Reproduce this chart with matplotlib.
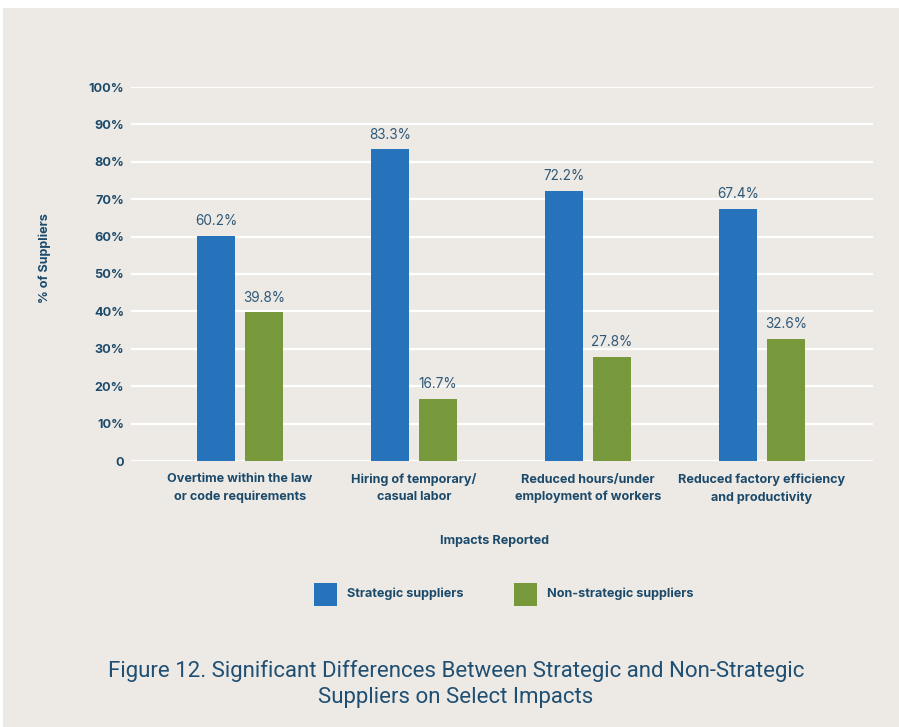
import matplotlib
matplotlib.use("Agg")
import matplotlib.pyplot as plt
import numpy as np
from matplotlib.patches import Rectangle

categories = [
    "Overtime within the law\nor code requirements",
    "Hiring of temporary/\ncasual labor",
    "Reduced hours/under\nemployment of workers",
    "Reduced factory efficiency\nand productivity",
]
strategic = [60.2, 83.3, 72.2, 67.4]
non_strategic = [39.8, 16.7, 27.8, 32.6]
series_names = ["Strategic suppliers", "Non-strategic suppliers"]
y_ticks = [0, 10, 20, 30, 40, 50, 60, 70, 80, 90, 100]
y_tick_labels = ["0"] + [f"{v}%" for v in y_ticks[1:]]

BG = "#EDEAE5"
BLUE = "#2673BB"
GREEN = "#77993C"
NAVY = "#1C4A6B"
LABEL = "#2F5877"
BOLD_SIZE = 9.1

W, H = 899, 727
fig = plt.figure(figsize=(W / 100, H / 100), dpi=100, facecolor="white")
# beige panel behind everything, leaving a thin white margin at top/left
fig.patches.append(Rectangle((3 / W, 0), 1 - 3 / W, 1 - 8 / H,
                             transform=fig.transFigure, facecolor=BG,
                             edgecolor="none", zorder=-10))

ax = fig.add_axes([131 / W, (H - 461) / H, 742 / W, (461 - 87) / H])
ax.set_facecolor(BG)
ax.patch.set_alpha(0)

x = np.arange(len(categories))
bw = 0.218
off = 0.138
b1 = ax.bar(x - off, strategic, width=bw, color=BLUE, zorder=3)
b2 = ax.bar(x + off, non_strategic, width=bw, color=GREEN, zorder=3)

for bars, vals in ((b1, strategic), (b2, non_strategic)):
    for rect, v in zip(bars, vals):
        ax.annotate(f"{v}%", (rect.get_x() + rect.get_width() / 2, v),
                    xytext=(0, 5.5), textcoords="offset points",
                    ha="center", va="bottom", fontsize=9.8,
                    family="Inter", color=LABEL)

ax.set_ylim(0, 100)
ax.set_xlim(-0.626, 3.638)
ax.set_yticks(y_ticks)
ax.set_yticklabels(y_tick_labels)
ax.yaxis.grid(True, color="white", linewidth=1.6, zorder=0)
ax.set_axisbelow(True)
for s in ax.spines.values():
    s.set_visible(False)
ax.tick_params(axis="y", length=0, pad=5)
ax.tick_params(axis="x", length=0, pad=9)
for t in ax.get_yticklabels():
    t.set_fontfamily("Inter")
    t.set_fontweight("bold")
    t.set_fontsize(BOLD_SIZE)
    t.set_color(NAVY)
ax.set_xticks(x)
ax.set_xticklabels(categories, fontsize=BOLD_SIZE, fontweight="bold",
                   family="Inter", color=NAVY, linespacing=1.55)

fig.text(494 / W, 1 - 541 / H, "Impacts Reported", ha="center", va="center",
         fontsize=BOLD_SIZE, fontweight="bold", family="Inter", color=NAVY)
fig.text(45 / W, 1 - 258 / H, "% of Suppliers", ha="center", va="center",
         rotation=90, fontsize=BOLD_SIZE, fontweight="bold", family="Inter",
         color=NAVY)

# legend built from figure patches
leg_x = [314, 514]
for xs, name, col in zip(leg_x, series_names, [BLUE, GREEN]):
    fig.patches.append(Rectangle((xs / W, 1 - 606 / H), 23 / W, 23 / H,
                                 transform=fig.transFigure, facecolor=col,
                                 edgecolor="none"))
    fig.text((xs + 33) / W, 1 - 594 / H, name, ha="left", va="center",
             fontsize=BOLD_SIZE, fontweight="bold", family="Inter", color=NAVY)

fig.text(456 / W, 1 - 684 / H,
         "Figure 12. Significant Differences Between Strategic and Non-Strategic\n"
         "Suppliers on Select Impacts",
         ha="center", va="center", fontsize=16, family="Roboto",
         color="#1F4F73", linespacing=1.3)

fig.savefig("out.png", dpi=100, facecolor="white")
